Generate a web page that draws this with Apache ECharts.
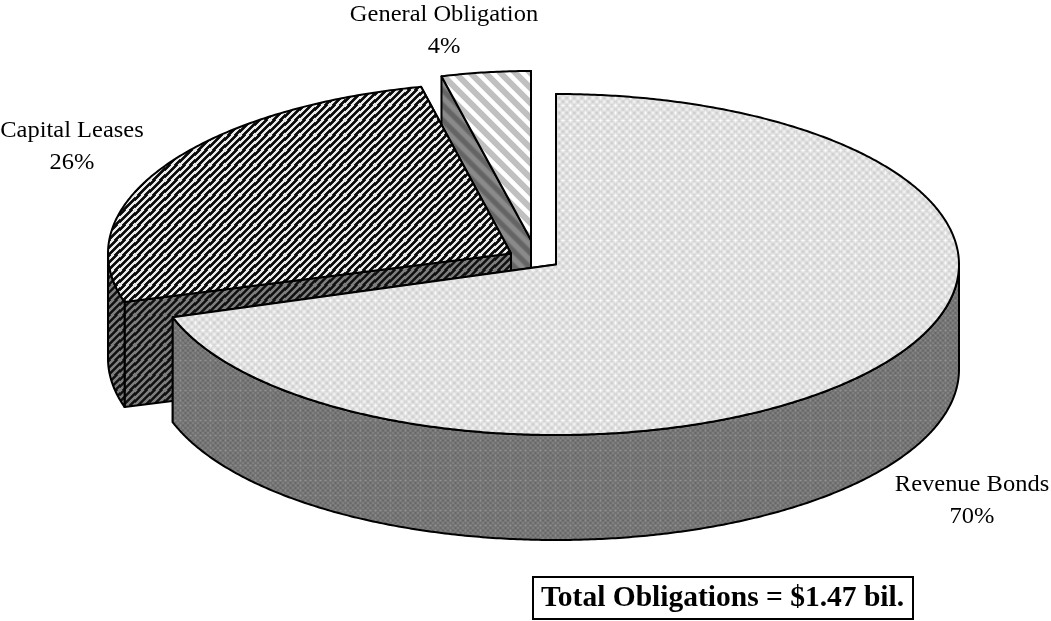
<!DOCTYPE html>
<html>
<head>
<meta charset="utf-8">
<title>Total Obligations</title>
<style>html,body{margin:0;padding:0;background:#fff}#chart{width:1051px;height:621px}</style>
<script src="https://cdn.jsdelivr.net/npm/echarts@6/dist/echarts.min.js"></script>
</head>
<body>
<div id="chart"></div>
<script>
// Debt categories and their rounded shares of total obligations, in percent.
var categories = ['Revenue Bonds', 'Capital Leases', 'General Obligation'];
var shares = [70, 26, 4];
var totalCaption = 'Total Obligations = $1.47 bil.';

var DEPTH = 105;
var SERIF = '"Liberation Serif", "Times New Roman", serif';

// Small repeating hatch tiles, softened so they read like a printed screen.
function tile(size, shade) {
  var c = document.createElement('canvas');
  c.width = c.height = size;
  var ctx = c.getContext('2d');
  var img = ctx.createImageData(size, size);
  for (var y = 0; y < size; y++) {
    for (var x = 0; x < size; x++) {
      var v = Math.round(shade(x, y));
      var i = (y * size + x) * 4;
      img.data[i] = img.data[i + 1] = img.data[i + 2] = v;
      img.data[i + 3] = 255;
    }
  }
  ctx.putImageData(img, 0, 0);
  return { image: c, repeat: 'repeat' };
}
function clamp01(t) { return Math.max(0, Math.min(1, t)); }
function wave(t, period, gain) {
  return clamp01(0.5 + gain * Math.cos(2 * Math.PI * t / period));
}
function mix(a, b, t) { return a + (b - a) * t; }

var fills = {
  revenueTop: tile(15, function (x, y) {
    var w = wave(x + y, 7.5, 0.5) * 0.5 + wave(x - y, 7.5, 0.5) * 0.5;
    var seam = (x === 0 || y === 0) ? 10 : 0;
    return Math.min(255, mix(205, 243, w) + seam);
  }),
  revenueSide: tile(15, function (x, y) {
    var w = wave(x + y, 5, 0.5) * 0.5 + wave(x - y, 5, 0.5) * 0.5;
    var seam = (x === 0 || y === 0) ? 10 : 0;
    return mix(100, 134, w) + seam;
  }),
  capitalTop: tile(15, function (x, y) {
    return mix(8, 235, Math.pow(wave(x + y, 7, 0.8), 1.8));
  }),
  capitalSide: tile(15, function (x, y) {
    return mix(15, 125, Math.pow(wave(x + y, 7, 0.8), 1.2));
  }),
  generalTop: tile(15, function (x, y) {
    var w = clamp01(wave(x - y, 15, 1.1) - 0.45) / 0.55;
    return mix(192, 255, w);
  }),
  generalSide: tile(15, function (x, y) {
    return mix(100, 138, wave(x - y, 15, 0.8));
  })
};

// Per-slice drawing setup: centre after the slice is pulled out, radii, and
// a small rotation of the wedge that follows the chart's projection.
var sliceLayout = [
  { cx: 556, cy: 264.5, rx: 403, ry: 170.5, turn: 0, top: fills.revenueTop, side: fills.revenueSide,
    label: [972, 501] },
  { cx: 511, cy: 253.5, rx: 403, ry: 171, turn: 1.5, top: fills.capitalTop, side: fills.capitalSide,
    label: [72, 147] },
  { cx: 531, cy: 240, rx: 360, ry: 169, turn: 0, top: fills.generalTop, side: fills.generalSide,
    label: [444, 31] }
];

var LINE = { stroke: '#000', lineWidth: 2, lineJoin: 'round' };

function rimPoint(s, deg) {
  var a = deg * Math.PI / 180;
  return [s.cx + s.rx * Math.sin(a), s.cy - s.ry * Math.cos(a)];
}
function drop(p) { return [p[0], p[1] + DEPTH]; }
function poly(points, fill) {
  return {
    type: 'polygon',
    shape: { points: points },
    style: { fill: fill, stroke: LINE.stroke, lineWidth: LINE.lineWidth, lineJoin: LINE.lineJoin }
  };
}
function arc(s, from, to) {
  var pts = [];
  var n = Math.max(1, Math.ceil(Math.abs(to - from) * 2));
  for (var i = 0; i <= n; i++) pts.push(rimPoint(s, from + (to - from) * i / n));
  return pts;
}

// Wedge start angle for each slice, clockwise from twelve o'clock.
var shareTotal = shares.reduce(function (a, b) { return a + b; }, 0);
var startAngles = [];
shares.reduce(function (run, v) {
  startAngles.push(run / shareTotal * 360);
  return run + v;
}, 0);

function renderSlice(i, value) {
  var s = sliceLayout[i];
  var from = startAngles[i] + s.turn;
  var to = from + value / shareTotal * 360;
  var centre = [s.cx, s.cy];
  var children = [];

  // End cut, then start cut, then the curved outer wall, then the lid.
  var endRim = rimPoint(s, to), startRim = rimPoint(s, from);
  children.push(poly([centre, endRim, drop(endRim), drop(centre)], s.side));
  children.push(poly([centre, startRim, drop(startRim), drop(centre)], s.side));
  var wallFrom = Math.max(from, 90), wallTo = Math.min(to, 270);
  if (wallTo > wallFrom) {
    var topEdge = arc(s, wallFrom, wallTo);
    children.push(poly(topEdge.concat(topEdge.map(drop).reverse()), s.side));
  }
  children.push(poly([centre].concat(arc(s, from, to)), s.top));

  return { type: 'group', children: children };
}

function renderLabel(params, api) {
  var i = params.dataIndex;
  var s = sliceLayout[i];
  return {
    type: 'text',
    x: s.label[0],
    y: s.label[1],
    scaleX: 1.02,
    style: {
      x: 0,
      y: 0,
      text: categories[i] + '\n' + Math.round(api.value(0)) + '%',
      font: '24px ' + SERIF,
      lineHeight: 32,
      fill: '#000',
      align: 'center',
      verticalAlign: 'middle'
    }
  };
}

// Back slices first so the large front slice sits over their walls.
var drawOrder = [2, 1, 0];

var chart = echarts.init(document.getElementById('chart'));
chart.setOption({
  animation: false,
  backgroundColor: '#fff',
  series: [
    {
      type: 'custom',
      coordinateSystem: 'none',
      silent: true,
      z: 2,
      data: drawOrder.map(function (i) { return [shares[i]]; }),
      renderItem: function (params, api) {
        return renderSlice(drawOrder[params.dataIndex], api.value(0));
      }
    },
    {
      type: 'custom',
      coordinateSystem: 'none',
      silent: true,
      z: 3,
      data: shares.map(function (v) { return [v]; }),
      renderItem: renderLabel
    }
  ],
  graphic: [
    {
      type: 'group',
      z: 5,
      children: [
        {
          type: 'rect',
          shape: { x: 533, y: 577, width: 380, height: 42 },
          style: { fill: '#fff', stroke: '#000', lineWidth: 2 }
        },
        {
          type: 'text',
          style: {
            x: 722.5,
            y: 598,
            text: totalCaption,
            font: 'bold 29.5px ' + SERIF,
            fill: '#000',
            align: 'center',
            verticalAlign: 'middle'
          }
        }
      ]
    }
  ]
});
</script>
</body>
</html>
